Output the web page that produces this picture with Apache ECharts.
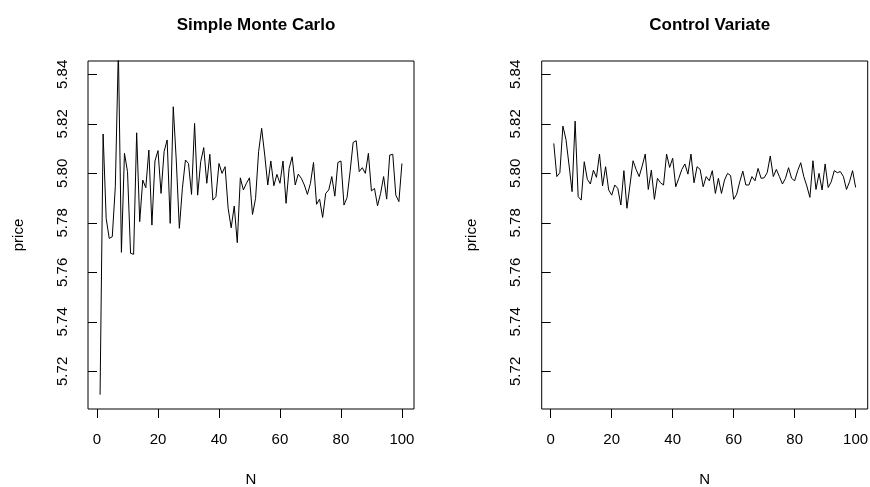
<!DOCTYPE html>
<html><head><meta charset="utf-8">
<script src="https://cdn.jsdelivr.net/npm/echarts@6/dist/echarts.min.js"></script>
<style>html,body{margin:0;padding:0;background:#fff}#c{width:870px;height:487px}</style>
</head><body><div id="c"></div>
<script>
const N = [1,2,3,4,5,6,7,8,9,10,11,12,13,14,15,16,17,18,19,20,21,22,23,24,25,26,27,28,29,30,31,32,33,34,35,36,37,38,39,40,41,42,43,44,45,46,47,48,49,50,51,52,53,54,55,56,57,58,59,60,61,62,63,64,65,66,67,68,69,70,71,72,73,74,75,76,77,78,79,80,81,82,83,84,85,86,87,88,89,90,91,92,93,94,95,96,97,98,99,100];
const simpleMC = [
5.7106,5.8159,5.7818,5.7737,5.7744,5.7946,5.8500,5.7681,5.8081,5.8007,
5.7677,5.7673,5.8164,5.7805,5.7973,5.7942,5.8094,5.7791,5.8050,5.8092,
5.7919,5.8088,5.8135,5.7798,5.8269,5.8050,5.7778,5.7940,5.8054,5.8040,
5.7915,5.8202,5.7912,5.8047,5.8104,5.7960,5.8077,5.7892,5.7906,5.8040,
5.8000,5.8027,5.7859,5.7780,5.7868,5.7720,5.7982,5.7933,5.7960,5.7982,
5.7834,5.7899,5.8088,5.8182,5.8074,5.7953,5.8050,5.7950,5.7996,5.7960,
5.8050,5.7879,5.8020,5.8067,5.7953,5.7997,5.7980,5.7953,5.7915,5.7960,
5.8044,5.7875,5.7896,5.7822,5.7919,5.7933,5.7987,5.7908,5.8044,5.8050,
5.7872,5.7902,5.8007,5.8125,5.8132,5.8007,5.8023,5.8000,5.8081,5.7929,
5.7939,5.7869,5.7919,5.7987,5.7896,5.8074,5.8077,5.7912,5.7886,5.8040];
const controlVariate = [
5.8121,5.7987,5.8003,5.8191,5.8137,5.8034,5.7926,5.8211,5.7906,5.7892,
5.8047,5.7976,5.7957,5.8013,5.7984,5.8078,5.7949,5.8027,5.7933,5.7912,
5.7953,5.7939,5.7872,5.8011,5.7859,5.7953,5.8051,5.8016,5.7987,5.8030,
5.8078,5.7935,5.8013,5.7895,5.7980,5.7962,5.7953,5.8078,5.8024,5.8061,
5.7946,5.7980,5.8016,5.8038,5.7997,5.8078,5.7962,5.8027,5.8016,5.7946,
5.7987,5.7970,5.8011,5.7919,5.7980,5.7919,5.7973,5.8000,5.7991,5.7895,
5.7916,5.7966,5.8009,5.7953,5.7953,5.7987,5.7970,5.8020,5.7980,5.7982,
5.8003,5.8070,5.7987,5.8016,5.7987,5.7957,5.7980,5.8023,5.7980,5.7970,
5.8011,5.8043,5.7987,5.7949,5.7903,5.8051,5.7935,5.8000,5.7933,5.8038,
5.7943,5.7966,5.8011,5.8003,5.8007,5.7987,5.7935,5.7966,5.8011,5.7943];
const titles = ['Simple Monte Carlo', 'Control Variate'];
const xTicks = [0, 20, 40, 60, 80, 100];
const yTicks = [5.72, 5.74, 5.76, 5.78, 5.80, 5.82, 5.84];
const xLabel = 'N';
const yLabel = 'price';

const FONT = "'Liberation Sans', Arial, Helvetica, sans-serif";
const xMin = -2.96, xMax = 103.96, yMin = 5.7048, yMax = 5.8454;
const gridLefts = [88, 541.7];
const seriesData = [simpleMC, controlVariate];

const chart = echarts.init(document.getElementById('c'), null, {renderer: 'canvas'});
const option = {
  backgroundColor: '#ffffff',
  animation: false,
  title: titles.map((t, i) => ({
    text: t, left: gridLefts[i] + 163, top: 12, textAlign: 'center',
    textStyle: {fontFamily: FONT, fontWeight: 'bold', fontSize: 17, color: '#000'}
  })),
  grid: gridLefts.map(l => ({
    left: l, top: 61, width: 326, height: 348, show: true,
    borderColor: '#000', borderWidth: 1, backgroundColor: 'transparent',
    containLabel: false, outerBoundsMode: 'none'
  })),
  xAxis: gridLefts.map((l, i) => ({
    type: 'value', gridIndex: i, min: xMin, max: xMax,
    name: xLabel, nameLocation: 'middle', nameGap: 63,
    nameTextStyle: {fontFamily: FONT, fontSize: 15, color: '#000'},
    axisLine: {show: false},
    axisTick: {show: true, inside: false, length: 9, customValues: xTicks, lineStyle: {color: '#000', width: 1}},
    axisLabel: {show: true, customValues: xTicks, margin: 23, fontFamily: FONT, fontSize: 15, color: '#000'},
    splitLine: {show: false}
  })),
  yAxis: gridLefts.map((l, i) => ({
    type: 'value', gridIndex: i, min: yMin, max: yMax,
    name: yLabel, nameLocation: 'middle', nameGap: 62,
    nameTextStyle: {fontFamily: FONT, fontSize: 15, color: '#000'},
    axisLine: {show: false},
    axisTick: {show: true, inside: false, length: 9, customValues: yTicks, lineStyle: {color: '#000', width: 1}},
    axisLabel: {show: true, customValues: yTicks, rotate: 90, margin: 18, fontFamily: FONT, fontSize: 15, color: '#000',
      formatter: v => v.toFixed(2)},
    splitLine: {show: false}
  })),
  series: seriesData.map((d, i) => ({
    type: 'line', xAxisIndex: i, yAxisIndex: i,
    data: N.map((n, k) => [n, d[k]]),
    showSymbol: false, symbol: 'none', clip: true,
    lineStyle: {color: '#000', width: 1}
  }))
};
chart.setOption(option);
</script>
</body></html>
